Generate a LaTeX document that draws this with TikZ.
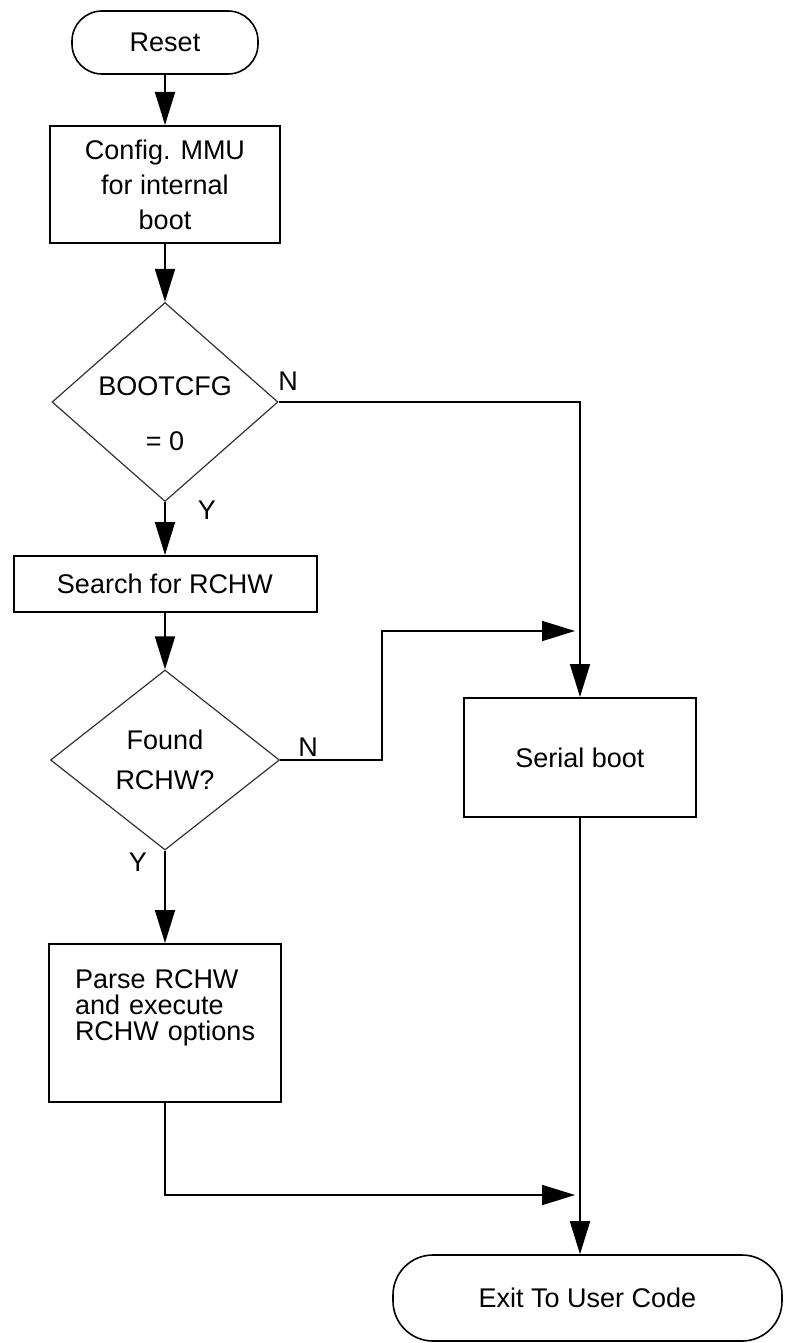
\documentclass[tikz,border=0pt]{standalone}
\usepackage{fontspec}
\setmainfont{Liberation Sans}
\usetikzlibrary{shapes.geometric,arrows.meta}

\tikzset{
    every node/.style={font=\fontsize{13.5pt}{17.5pt}\selectfont},
    block/.style={draw, line width=1pt, rectangle, inner sep=0pt},
    term/.style={draw, line width=0.8pt, rectangle, rounded corners=#1, inner sep=0pt},
    decision/.style={draw=black!80, line width=0.6pt, diamond, inner sep=0pt, shape aspect=1.14},
    arr/.style={line width=0.9pt, -{Triangle[length=16.5pt,width=10pt]}},
}

\begin{document}
\begin{tikzpicture}[x=0.5pt, y=-0.5pt]
    % Area
    \useasboundingbox (0,0) rectangle (784,1343);
    % Blocchi
    \node[term=15pt, minimum width=93pt, minimum height=31.5pt] (reset) at (165,42.5) {Reset};
    \node[block, minimum width=115pt, minimum height=58.5pt, align=center] (config) at (165,184.5) {Config. MMU\\for internal\\boot};
    \node[decision, minimum width=113pt, minimum height=99.5pt, align=center,
          inner sep=-6pt, text height=48.5pt, text depth=0pt] (boot) at (165,402) {BOOTCFG\\[10pt]= 0};
    \node[block, minimum width=151.5pt, minimum height=28pt] (search) at (165,584) {Search for RCHW};
    \node[decision, minimum width=114.5pt, minimum height=90pt, align=center,
          font=\fontsize{13.5pt}{20pt}\selectfont] (found) at (165,760) {Found\\RCHW?};
    \node[block, minimum width=116pt, minimum height=79pt, text width=90pt, align=left, text depth=44pt,
          font=\fontsize{13.5pt}{13pt}\selectfont] (parse) at (165,1023) {Parse RCHW\\and execute\\\mbox{RCHW options}};
    \node[block, minimum width=116pt, minimum height=59.5pt] (serial) at (580,757.5) {Serial boot};
    \node[term=20pt, minimum width=194.5pt, minimum height=43pt] (exit) at (587.5,1298) {Exit To User Code};
    % Punti di arrivo
    \coordinate (inS) at (575,631);
    \coordinate (inE) at (575,1195);
    % Linee
    \draw[arr] (reset) -- (config);
    \draw[arr] (config) -- (boot);
    \draw[arr] (boot) -- (search);
    \draw[arr] (search) -- (found);
    \draw[arr] (found) -- (parse);
    \draw[arr] (boot.east) -| (serial.north); % ramo N
    \draw[arr] (found.east) -- ++(102,0) |- (inS); % ramo N
    \draw[arr] (parse.south) |- (inE);
    \draw[arr] (serial.south) -- (serial.south |- exit.north);
    % Etichette
    \node (n1) at (288,381) {N};
    \node (y1) at (207,510) {Y};
    \node (n2) at (308,747) {N};
    \node (y2) at (138,862) {Y};
\end{tikzpicture}
\end{document}
